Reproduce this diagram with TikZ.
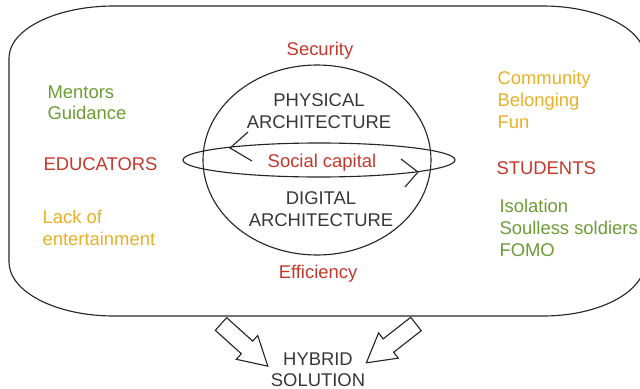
\documentclass[tikz,border=0pt]{standalone}
\usepackage{fontspec}
\setmainfont{Liberation Sans}
\usepackage{color}
\definecolor{capred}{RGB}{196,56,44}
\definecolor{capgreen}{RGB}{108,156,54}
\definecolor{capyellow}{RGB}{232,176,40}
\definecolor{capgray}{RGB}{55,55,55}

\begin{document}
\begin{tikzpicture}[x=0.025cm,y=-0.025cm,line width=0.8pt,
  txt/.style={inner sep=0pt,font=\fontsize{13.1pt}{15.4pt}\selectfont},
  ltxt/.style={txt,anchor=north west,align=left},
  ctxt/.style={txt,anchor=north,align=center}]
\useasboundingbox (0,0) rectangle (640,389);
\clip (0,0) rectangle (640,389);
%%%% outer frame
\draw[black!85] (9,58) -- (9,262) arc[start angle=180,end angle=90,x radius=105,y radius=54]
  -- (543,316) arc[start angle=90,end angle=0,x radius=102,y radius=54]
  -- (645,58) arc[start angle=0,end angle=-90,x radius=102,y radius=52]
  -- (114,6) arc[start angle=-90,end angle=-180,x radius=105,y radius=52] -- cycle;
%%%%%% globe and ring
\draw[black!85] (317,160) ellipse [x radius=114,y radius=95];
\draw[black!85] (319,160) ellipse [x radius=136,y radius=17];
%%%% heads on the ring
\draw[black!85] (248,132) -- (230,148) -- (252,161);
\draw[black!85] (401,159) -- (418,172) -- (405,187);
%%%% centre texts
\node[ctxt,text=capred] (security) at (320,42) {Security};
\node[ctxt,text=capgray] (physical) at (319,93) {PHYSICAL\\ARCHITECTURE};
\node[ctxt,text=capred] (social) at (322,154) {Social capital};
\node[ctxt,text=capgray] (digital) at (321,191) {DIGITAL\\ARCHITECTURE};
\node[ctxt,text=capred] (efficiency) at (318,265) {Efficiency};
%%%% educators side
\node[ltxt,text=capgreen] (mentors) at (47,85) {Mentors\\Guidance};
\node[ltxt,text=capred] (educators) at (43,157) {EDUCATORS};
\node[ltxt,text=capyellow] (lack) at (42,210) {Lack of\\entertainment};
%%%% students side
\node[ltxt,text=capyellow] (community) at (497,71) {Community\\Belonging\\Fun};
\node[ltxt,text=capred] (students) at (496,161) {STUDENTS};
\node[ltxt,text=capgreen] (isolation) at (499,199) {Isolation\\Soulless soldiers\\FOMO};
%%%% block arrows
\def\blockarrow{(0,-8.5) -- (35,-8.5) -- (35,-16) -- (63,0) -- (35,16) -- (35,8.5) -- (0,8.5) -- cycle}
\draw[black!85,line join=miter,shift={(221,324)},rotate=-42] \blockarrow;
\draw[black!85,line join=miter,shift={(416,324)},rotate=-142] \blockarrow;
%%%% hybrid
\node[ctxt,text=capgray] (hybrid) at (318,352) {HYBRID\\SOLUTION};
\end{tikzpicture}
\end{document}
